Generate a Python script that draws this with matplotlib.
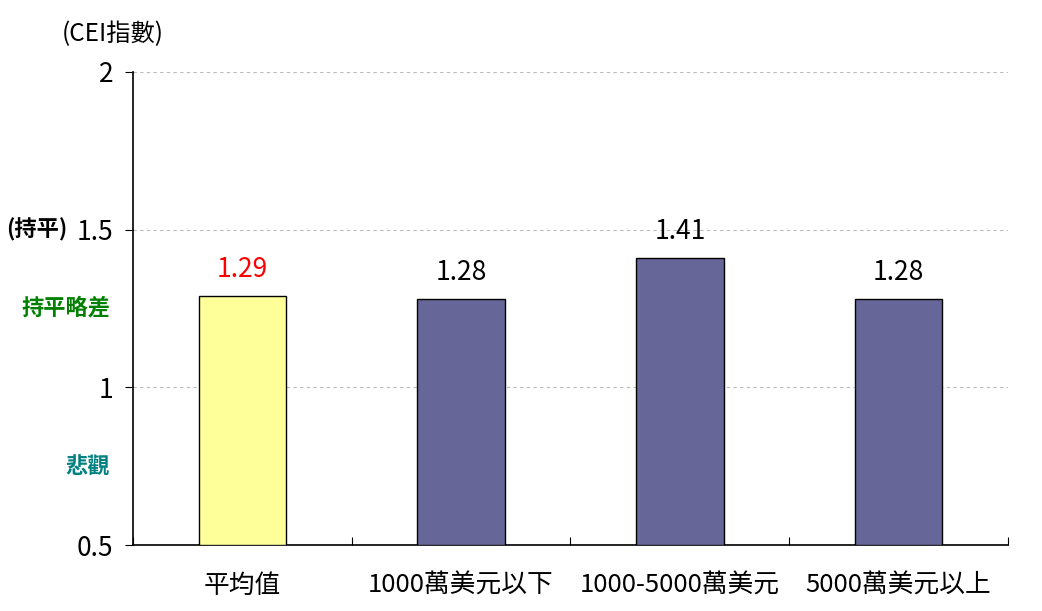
import numpy as np
import matplotlib.pyplot as plt

plt.rcParams['font.family'] = ['Noto Sans CJK TC', 'DejaVu Sans']

categories = ["平均值", "1000萬美元以下", "1000-5000萬美元", "5000萬美元以上"]
values = [1.29, 1.28, 1.41, 1.28]
bar_colors = ["#FFFF99", "#666699", "#666699", "#666699"]
label_colors = ["#FF0000", "#000000", "#000000", "#000000"]
yticks = [0.5, 1, 1.5, 2]
ytick_labels = ["0.5", "1", "1.5", "2"]


def main():
    fig = plt.figure(figsize=(10.42, 6.11), dpi=100)
    ax = fig.add_axes([0.1276, 0.108, 0.8398, 0.7742])

    x = np.arange(len(categories))
    ax.bar(x, [v - 0.5 for v in values], bottom=0.5, width=0.4,
           color=bar_colors, edgecolor="black", linewidth=1, zorder=3)

    for xi, v, c in zip(x, values, label_colors):
        ax.text(xi, v + 0.04, f"{v:.2f}", ha="center", va="bottom",
                fontsize=19, color=c)

    ax.set_xlim(-0.5, len(categories) - 0.5)
    ax.set_ylim(0.5, 2)
    ax.set_yticks(yticks)
    ax.set_yticklabels(ytick_labels, fontsize=19)
    ax.yaxis.grid(True, linestyle=(0, (3, 3)), color="#BBBBBB", linewidth=0.8)
    ax.set_axisbelow(True)

    # ticks on category boundaries, labels centred under bars
    ax.set_xticks(np.arange(len(categories) + 1) - 0.5)
    ax.set_xticklabels([])
    ax.set_xticks(x, minor=True)
    ax.set_xticklabels(categories, minor=True, fontsize=18.5)
    ax.tick_params(axis="x", which="minor", length=0, pad=20)
    ax.tick_params(axis="x", which="major", length=6, direction="in")
    ax.tick_params(axis="y", length=6, direction="out", pad=8)

    for s in ["top", "right"]:
        ax.spines[s].set_visible(False)
    ax.spines["left"].set_linewidth(1.2)
    ax.spines["bottom"].set_linewidth(1.2)

    tr = ax.get_yaxis_transform()
    ax.text(-0.075, 1.5, "(持平)", transform=tr, ha="right", va="center",
            fontsize=16, fontweight="bold")
    ax.text(-0.026, 1.25, "持平略差", transform=tr, ha="right", va="center",
            fontsize=16, fontweight="bold", color="#008000")
    ax.text(-0.026, 0.75, "悲觀", transform=tr, ha="right", va="center",
            fontsize=16, fontweight="bold", color="#008080")
    fig.text(0.108, 0.945, "(CEI指數)", ha="center", va="center", fontsize=17.5)

    fig.savefig("out.png", dpi=100)


if __name__ == '__main__':
    main()
